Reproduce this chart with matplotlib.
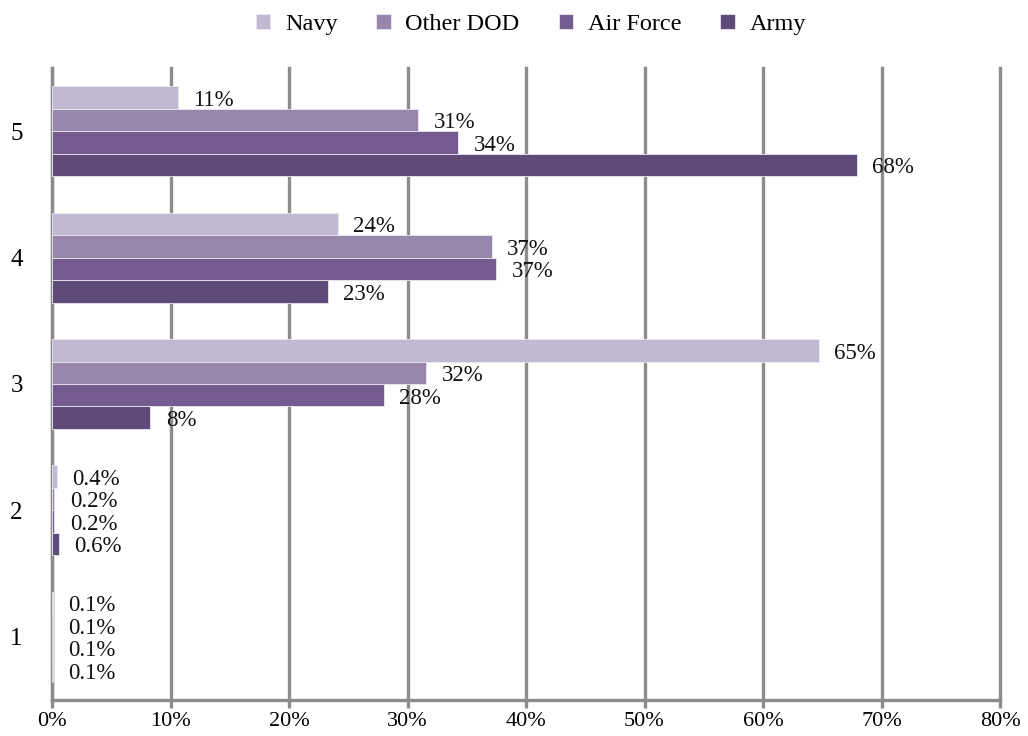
import matplotlib.pyplot as plt
import numpy as np

plt.rcParams['font.family'] = ['Liberation Serif', 'DejaVu Serif']

categories = ['1', '2', '3', '4', '5']
series = ['Navy', 'Other DOD', 'Air Force', 'Army']
navy = [0.1, 0.4, 64.7, 24.1, 10.6]
other_dod = [0.1, 0.2, 31.6, 37.1, 30.9]
air_force = [0.1, 0.2, 28.0, 37.5, 34.3]
army = [0.1, 0.6, 8.3, 23.3, 67.9]
labels = {
    'Navy': ['0.1%', '0.4%', '65%', '24%', '11%'],
    'Other DOD': ['0.1%', '0.2%', '32%', '37%', '31%'],
    'Air Force': ['0.1%', '0.2%', '28%', '37%', '34%'],
    'Army': ['0.1%', '0.6%', '8%', '23%', '68%'],
}
values = {'Navy': navy, 'Other DOD': other_dod, 'Air Force': air_force, 'Army': army}
colors = {'Navy': '#c1b8d1', 'Other DOD': '#9787ad', 'Air Force': '#745b8f', 'Army': '#5f4b79'}

fig = plt.figure(figsize=(10.28, 7.36), dpi=100)
ax = fig.add_axes([52 / 1028, 36 / 736, 948 / 1028, 632 / 736])

y = np.arange(len(categories))
bar_h = 0.178
# Navy on top of each group, Army at bottom
offsets = {'Navy': 1.5 * bar_h, 'Other DOD': 0.5 * bar_h, 'Air Force': -0.5 * bar_h, 'Army': -1.5 * bar_h}

for s in series:
    ax.barh(y + offsets[s], values[s], height=bar_h, color=colors[s], edgecolor='#ece8f1',
            linewidth=0.6, label=s, zorder=3)
    for yi, v, lab in zip(y, values[s], labels[s]):
        ax.annotate(lab, (v, yi + offsets[s]), xytext=(11, -2), textcoords='offset points',
                    va='center', ha='left', fontsize=16.5, color='#111111', zorder=4)

ax.set_xlim(0, 80)
ax.set_ylim(-0.5, 4.5)
ax.set_xticks(np.arange(0, 81, 10))
ax.set_xticklabels([f'{t}%' for t in range(0, 81, 10)], fontsize=16)
ax.set_yticks(y)
ax.set_yticklabels(categories, fontsize=18)
ax.xaxis.grid(True, color='#8c8c8c', linewidth=2.4, zorder=1)
for gl in ax.get_xgridlines():
    gl.set_clip_on(False)
ax.set_axisbelow(True)
for side in ['top', 'right']:
    ax.spines[side].set_visible(False)
for side in ['left', 'bottom']:
    ax.spines[side].set_color('#8c8c8c')
    ax.spines[side].set_linewidth(2.4)
ax.tick_params(axis='x', length=6, width=2.4, color='#8c8c8c', pad=3)
ax.tick_params(axis='y', length=0, pad=21)

ax.legend(loc='upper center', bbox_to_anchor=(0.505, 1.12), ncol=4, frameon=False, fontsize=17.5,
          handlelength=0.6, handleheight=0.6, handletextpad=0.6, columnspacing=1.6)

fig.savefig('out.png', dpi=100)
